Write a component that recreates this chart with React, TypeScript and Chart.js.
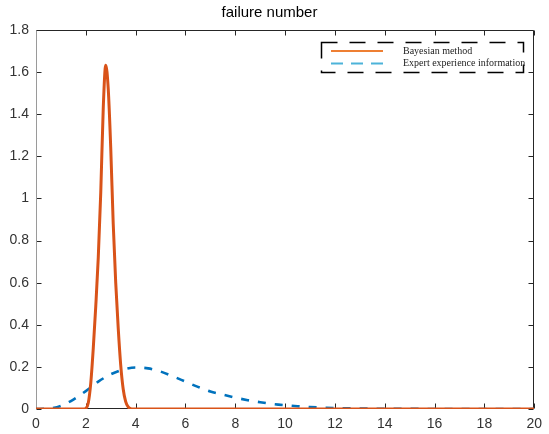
import { useEffect, useRef } from "react";
import { Chart, registerables } from "chart.js";

Chart.register(...registerables);

const chartTitle = "failure number";
const seriesLabels = ["Bayesian method", "Expert experience information"];

const bayesX = [0, 1.9, 2.0, 2.1, 2.2, 2.3, 2.4, 2.5, 2.6, 2.7, 2.8, 2.9, 3.0, 3.1, 3.2, 3.3, 3.4, 3.5, 3.6, 3.7, 3.8, 3.9, 20];
const bayesY = [0, 0, 0.003, 0.03, 0.125, 0.29, 0.49, 0.72, 1.03, 1.43, 1.633, 1.52, 1.24, 0.88, 0.6, 0.385, 0.21, 0.095, 0.035, 0.01, 0.001, 0, 0];

const expertX = [0, 0.5, 1, 1.5, 2, 2.5, 3, 3.5, 4, 4.5, 5, 5.5, 6, 6.5, 7, 7.5, 8, 8.5, 9, 9.5, 10, 10.5, 11, 11.5, 12, 13, 14, 15, 16, 17, 18, 19, 20];
const expertY = [0, 0.002, 0.015, 0.045, 0.085, 0.13, 0.165, 0.187, 0.197, 0.193, 0.178, 0.155, 0.13, 0.105, 0.083, 0.068, 0.054, 0.042, 0.032, 0.024, 0.018, 0.013, 0.009, 0.0065, 0.0045, 0.002, 0.001, 0.0005, 0.0002, 0, 0, 0, 0];

const xRange = [0, 20];
const xStep = 2;
const yRange = [0, 1.8];
const yStep = 0.2;

const RED = "#D95319";
const BLUE = "#0072BD";
const LEG_RED = "#EE7F33";
const LEG_BLUE = "#4DB3D9";
const AXIS = "#262626";
const SANS = "'Liberation Sans', Arial, sans-serif";
const SERIF = "'Liberation Serif', 'Times New Roman', serif";

const framePlugin = {
  id: "matlabFrame",
  beforeDatasetsDraw(chart: any) {
    const { ctx, chartArea, scales } = chart;
    const { left, right, top, bottom } = chartArea;
    const xs = scales.x;
    const ys = scales.y;
    const L = Math.round(left) + 0.5;
    const R = Math.round(right) - 0.5;
    const T = Math.round(top) + 0.5;
    const B = Math.round(bottom) - 0.5;
    ctx.save();
    ctx.lineWidth = 1;
    ctx.strokeStyle = AXIS;
    ctx.beginPath();
    xs.ticks.forEach((t: any) => {
      const px = Math.round(xs.getPixelForValue(t.value)) + 0.5;
      ctx.moveTo(px, B);
      ctx.lineTo(px, B - 5);
      ctx.moveTo(px, T);
      ctx.lineTo(px, T + 5);
    });
    ys.ticks.forEach((t: any) => {
      const py = Math.round(ys.getPixelForValue(t.value)) + 0.5;
      ctx.moveTo(L, py);
      ctx.lineTo(L + 5, py);
      ctx.moveTo(R, py);
      ctx.lineTo(R - 5, py);
    });
    ctx.moveTo(L, T);
    ctx.lineTo(R, T);
    ctx.lineTo(R, B);
    ctx.lineTo(L, B);
    ctx.stroke();
    ctx.strokeStyle = "#9a9a9a";
    ctx.beginPath();
    ctx.moveTo(L, T);
    ctx.lineTo(L, B);
    ctx.stroke();
    ctx.restore();
  },
};

const legendPlugin = {
  id: "boxLegend",
  afterDraw(chart: any) {
    const { ctx } = chart;
    const bx = 321.5, by = 42.5, bw = 202, bh = 30;
    ctx.save();
    ctx.lineWidth = 1.5;
    ctx.strokeStyle = "#000";
    ctx.setLineDash([16, 12]);
    ctx.strokeRect(bx, by, bw, bh);
    ctx.lineWidth = 2;
    ctx.setLineDash([]);
    ctx.strokeStyle = LEG_RED;
    ctx.beginPath();
    ctx.moveTo(331, 51);
    ctx.lineTo(383, 51);
    ctx.stroke();
    ctx.strokeStyle = LEG_BLUE;
    ctx.setLineDash([12, 8]);
    ctx.beginPath();
    ctx.moveTo(331, 63.5);
    ctx.lineTo(383, 63.5);
    ctx.stroke();
    ctx.setLineDash([]);
    ctx.fillStyle = "#222";
    ctx.font = `10px ${SERIF}`;
    ctx.textAlign = "left";
    ctx.textBaseline = "middle";
    ctx.fillText(seriesLabels[0], 403, 51);
    ctx.fillText(seriesLabels[1], 403, 63.5);
    ctx.restore();
  },
};

const fmt = (v: any) => String(Number(Number(v).toFixed(2)));

export default function App() {
  const ref = useRef<HTMLCanvasElement | null>(null);
  useEffect(() => {
    if (!ref.current) return;
    const chart = new Chart(ref.current, {
      type: "line",
      data: {
        datasets: [
          {
            label: seriesLabels[0],
            data: bayesX.map((x, i) => ({ x, y: bayesY[i] })),
            borderColor: RED,
            borderWidth: 3,
            pointRadius: 0,
            fill: false,
            cubicInterpolationMode: "monotone",
          },
          {
            label: seriesLabels[1],
            data: expertX.map((x, i) => ({ x, y: expertY[i] })),
            borderColor: BLUE,
            borderWidth: 2.6,
            borderDash: [8, 9],
            pointRadius: 0,
            fill: false,
            cubicInterpolationMode: "monotone",
          },
        ],
      },
      options: {
        responsive: false,
        animation: false,
        layout: { padding: { left: 0, right: 10, top: 0, bottom: 0 } },
        plugins: {
          legend: { display: false },
          tooltip: { enabled: false },
          title: {
            display: true,
            text: chartTitle,
            color: "#000",
            font: { family: SANS, size: 15, weight: "normal" },
            padding: { top: 4, bottom: 8 },
          },
        },
        scales: {
          x: {
            type: "linear",
            min: xRange[0],
            max: xRange[1],
            ticks: { stepSize: xStep, color: "#333", font: { family: SANS, size: 14 }, padding: 7, maxRotation: 0, callback: fmt },
            grid: { display: false, drawTicks: false },
            border: { display: false },
            afterFit: (s: any) => { s.height = 25; },
          },
          y: {
            type: "linear",
            min: yRange[0],
            max: yRange[1],
            ticks: { stepSize: yStep, color: "#333", font: { family: SANS, size: 14 }, padding: 7, callback: fmt },
            grid: { display: false, drawTicks: false },
            border: { display: false },
            afterFit: (s: any) => { s.width = 36; },
          },
        },
      },
      plugins: [framePlugin, legendPlugin],
    });
    return () => chart.destroy();
  }, []);
  return (
    <div style={{ position: "fixed", left: 0, top: 0, width: 549, height: 434, background: "#fff" }}>
      <canvas ref={ref} width={549} height={434} />
    </div>
  );
}
